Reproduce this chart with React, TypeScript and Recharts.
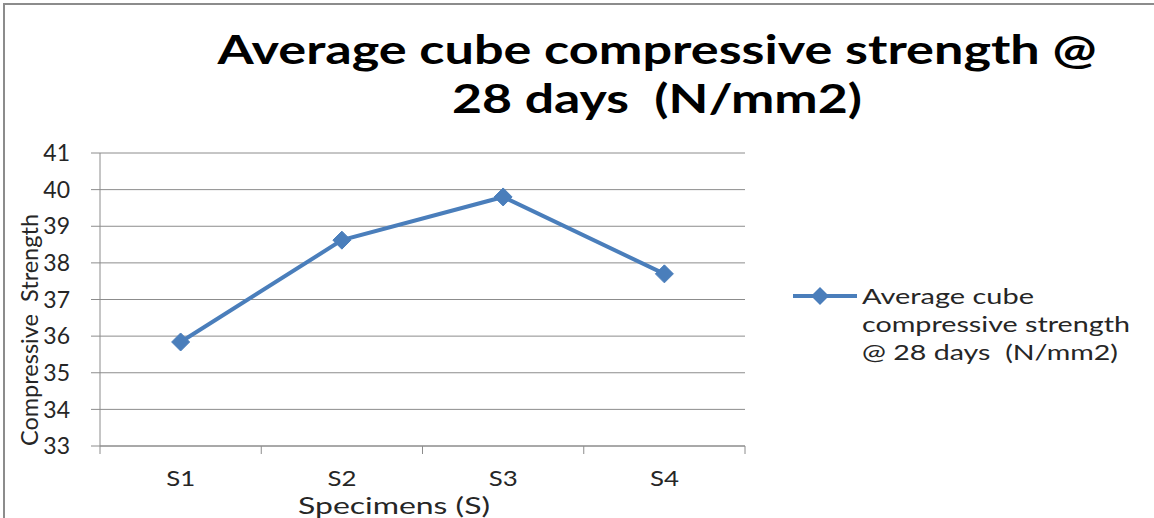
import React from "react";
import { LineChart, Line, XAxis, YAxis, CartesianGrid, Legend } from "recharts";

const categories = ["S1", "S2", "S3", "S4"];
const strength = [35.84, 38.62, 39.8, 37.7];
const yTicks = [33, 34, 35, 36, 37, 38, 39, 40, 41];
const xBounds = [0, 1, 2, 3, 4];

const seriesName = "Average cube compressive strength @ 28 days  (N/mm2)";
const legendLines = ["Average cube", "compressive strength", "@ 28 days  (N/mm2)"];
const titleLines = ["Average cube compressive strength @", "28 days  (N/mm2)"];
const yLabel = "Compressive  Strength";
const xLabel = "Specimens (S)";

const data = categories.map((c, i) => ({ pos: i + 0.5, name: c, value: strength[i] }));

const BLUE = "#4a7ebb";
const GRID = "#8c8c8c";
const FONT = "Lato, 'Open Sans', sans-serif";
const BAND = 645 / 4;
const LEGEND_W = 364;
const legendWidths = [172, 268, 256];

function Diamond(props: any) {
  const { cx, cy } = props;
  if (cx == null || cy == null) return null;
  const r = 9;
  return (
    <polygon
      points={`${cx},${cy - r} ${cx + r},${cy} ${cx},${cy + r} ${cx - r},${cy}`}
      fill={BLUE}
      stroke={BLUE}
      strokeWidth={1}
    />
  );
}

function XTick(props: any) {
  const { x, y, payload } = props;
  const label = categories[payload.value];
  if (!label) return null;
  return (
    <text x={x + BAND / 2} y={y} dy="0.71em" textAnchor="middle" fontSize={22} fill="#262626" fontFamily={FONT}
      textLength={29} lengthAdjust="spacingAndGlyphs">
      {label}
    </text>
  );
}

function LegendBox() {
  return (
    <svg width={LEGEND_W} height={90} style={{ display: "block" }}>
      <line x1={3} y1={14} x2={67} y2={14} stroke={BLUE} strokeWidth={4} />
      <polygon points="30,5 39,14 30,23 21,14" fill={BLUE} />
      {legendLines.map((t, i) => (
        <text key={i} x={72} y={22 + i * 28} fontSize={22} fill="#262626" fontFamily={FONT}
          textLength={legendWidths[i]} lengthAdjust="spacingAndGlyphs" style={{ whiteSpace: "pre" }}>
          {t}
        </text>
      ))}
    </svg>
  );
}

export default function App() {
  return (
    <div style={{ position: "absolute", left: 0, top: 0, width: 1154, height: 518, background: "#fff", overflow: "hidden" }}>
      <div style={{ position: "absolute", left: 3, top: 3, width: 1200, height: 600, borderLeft: "2px solid #8c8c8c", borderTop: "2px solid #8c8c8c" }} />
      <svg style={{ position: "absolute", left: 0, top: 0 }} width={1154} height={140}>
        <text x={657} y={64} textAnchor="middle" fontSize={41} fontWeight={700} fontFamily={FONT} fill="#000" textLength={879} lengthAdjust="spacingAndGlyphs" style={{ whiteSpace: "pre" }}>
          {titleLines[0]}
        </text>
        <text x={657} y={113} textAnchor="middle" fontSize={41} fontWeight={700} fontFamily={FONT} fill="#000" textLength={410} lengthAdjust="spacingAndGlyphs" style={{ whiteSpace: "pre" }}>
          {titleLines[1]}
        </text>
      </svg>
      <div style={{ position: "absolute", left: 0, top: 0 }}>
        <LineChart width={1154} height={518} data={data} margin={{ top: 153, right: 409 - LEGEND_W, bottom: 0, left: 0 }}>
          <CartesianGrid vertical={false} stroke={GRID} strokeWidth={1} />
          <XAxis
            xAxisId={0}
            type="number"
            dataKey="pos"
            domain={[0, 4]}
            ticks={xBounds}
            interval={0}
            height={72}
            tickSize={8}
            tickMargin={16}
            stroke={GRID}
            tick={<XTick />}
            label={{
              content: () => (
                <text x={394} y={514} textAnchor="middle" fontSize={23} fill="#262626" fontFamily={FONT}
                  textLength={192} lengthAdjust="spacingAndGlyphs">
                  {xLabel}
                </text>
              ),
            }}
          />
          <YAxis
            domain={[33, 41]}
            ticks={yTicks}
            interval={0}
            width={100}
            tickSize={9}
            tickMargin={21}
            stroke={GRID}
            tick={{ fontSize: 23, fill: "#262626", fontFamily: FONT }}
            label={{
              content: () => (
                <text
                  transform="translate(38,330) rotate(-90)"
                  textAnchor="middle"
                  fontSize={24}
                  fill="#262626"
                  fontFamily={FONT}
                  textLength={232}
                  lengthAdjust="spacingAndGlyphs"
                  style={{ whiteSpace: "pre" }}
                >
                  {yLabel}
                </text>
              ),
            }}
          />
          <Legend
            layout="vertical"
            align="right"
            verticalAlign="middle"
            content={() => <LegendBox />}
            wrapperStyle={{ position: "absolute", left: 790, top: 282, width: LEGEND_W }}
          />
          <Line
            type="linear"
            dataKey="value"
            name={seriesName}
            stroke={BLUE}
            strokeWidth={4}
            dot={<Diamond />}
            activeDot={false}
            isAnimationActive={false}
          />
        </LineChart>
      </div>
    </div>
  );
}
